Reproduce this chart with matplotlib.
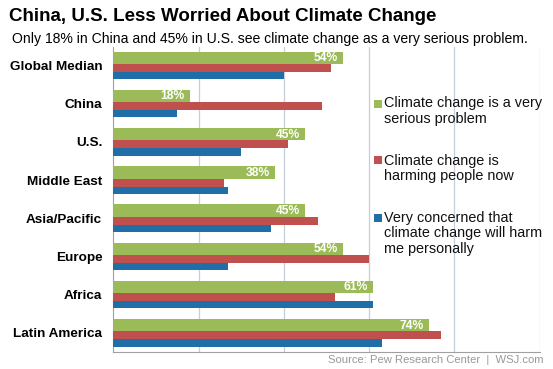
"""
Pew climate survey: grouped horizontal bars, WSJ style
"""

import matplotlib
matplotlib.use('Agg')
import matplotlib.pyplot as plt
import numpy as np
from matplotlib.patches import Rectangle

plt.rcParams['font.family'] = ['Liberation Sans', 'DejaVu Sans']

# data (percent)
regions = ['Global Median', 'China', 'U.S.', 'Middle East',
           'Asia/Pacific', 'Europe', 'Africa', 'Latin America']
serious = [54, 18, 45, 38, 45, 54, 61, 74]
harming = [51, 49, 41, 26, 48, 60, 52, 77]
personal = [40, 15, 30, 27, 37, 27, 61, 63]

series_labels = ['Climate change is a very\nserious problem',
                 'Climate change is\nharming people now',
                 'Very concerned that\nclimate change will harm\nme personally']
colors = ['#9bbb59', '#c0504d', '#1f6ea7']
grid_ticks = [20, 40, 60, 80, 100]

W, H = 553, 369
fig = plt.figure(figsize=(W / 100, H / 100), dpi=100)
ax = fig.add_axes([0.205, 0.047, 0.7706, 0.8256])

y = np.arange(len(regions))
# bar bands: green thicker on top, then red, then blue
ax.barh(y - 0.20, serious, height=0.32, color=colors[0], zorder=3)
ax.barh(y + 0.065, harming, height=0.21, color=colors[1], zorder=3)
ax.barh(y + 0.265, personal, height=0.19, color=colors[2], zorder=3)

for yi, v in zip(y, serious):
    ax.text(v - 1.2, yi - 0.19, f'{v}%', ha='right', va='center',
            color='white', fontsize=8.7, fontweight='bold',
            family=['Liberation Sans Narrow', 'Liberation Sans'], zorder=4)

ax.set_xlim(0, 100)
ax.set_ylim(7.49, -0.48)
ax.set_yticks(y)
ax.set_yticklabels(regions, fontsize=9.7, fontweight='bold')
ax.tick_params(axis='y', length=0, pad=8)
ax.set_xticks(grid_ticks)
ax.tick_params(axis='x', length=0, labelbottom=False)
ax.grid(axis='x', color='#c5cfdc', linewidth=0.9, zorder=0)
for s in ['top', 'right']:
    ax.spines[s].set_visible(False)
ax.spines['left'].set_color('#a0a0a0')
ax.spines['bottom'].set_color('#a0a0a0')

# legend, drawn by hand: square next to the first line of each entry
for i, (lab, c) in enumerate(zip(series_labels, colors)):
    top = 96.5 + 57 * i
    fig.text(384.5 / W, 1 - top / H, lab, va='top', ha='left',
             fontsize=10.35, linespacing=1.17, color='#111111')
    fig.patches.append(Rectangle((373.5 / W, 1 - (107.5 + 57 * i) / H),
                                 8 / W, 8 / H, transform=fig.transFigure,
                                 facecolor=c, edgecolor='none'))

fig.text(0.017, 0.955, 'China, U.S. Less Worried About Climate Change',
         fontsize=13.5, fontweight='bold', va='center')
fig.text(0.022, 0.893, 'Only 18% in China and 45% in U.S. see climate change '
         'as a very serious problem.', fontsize=10.05, va='center')
fig.text(0.982, 0.025, 'Source: Pew Research Center  |  WSJ.com',
         fontsize=8.1, color='#999999', ha='right', va='center')

plt.savefig('out.png', dpi=100)
